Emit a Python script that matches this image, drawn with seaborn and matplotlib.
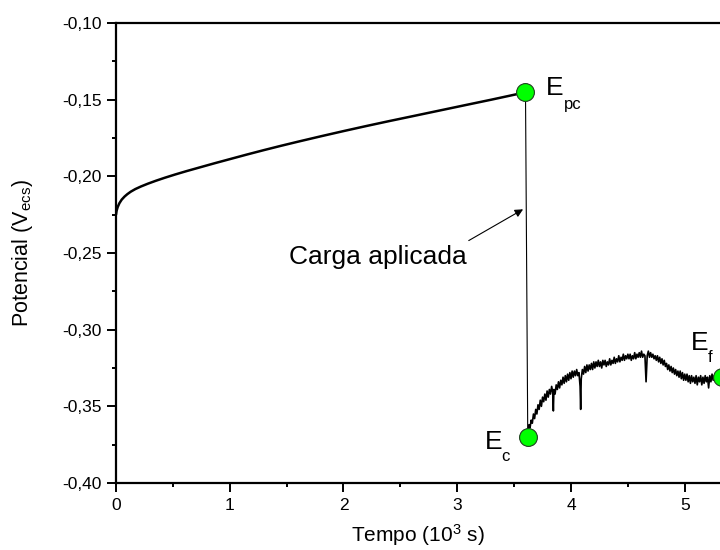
import numpy as np
import pandas as pd
import matplotlib
matplotlib.use("Agg")
import matplotlib.pyplot as plt
from matplotlib.ticker import MultipleLocator, FuncFormatter
import seaborn as sns

sns.set_theme(style="ticks")
plt.rcParams["font.family"] = ["Liberation Sans", "DejaVu Sans"]
plt.rcParams["mathtext.default"] = "regular"
plt.rcParams["text.color"] = "black"
plt.rcParams["axes.labelcolor"] = "black"

# open-circuit curve before the load (10^3 s, V)
t_before = [0.0, 0.005, 0.015, 0.03, 0.05, 0.075, 0.10, 0.13, 0.17, 0.22, 0.28,
            0.35, 0.43, 0.52, 0.62, 0.74, 0.87, 1.0, 1.15, 1.3, 1.45, 1.6,
            1.8, 2.0, 2.2, 2.4, 2.6, 2.85, 3.1, 3.3, 3.45, 3.6]
e_before = [-0.225, -0.2225, -0.2200, -0.2175, -0.2152, -0.2132, -0.2116, -0.2100,
            -0.2083, -0.2066, -0.2048, -0.2029, -0.2009, -0.1988, -0.1966, -0.1941,
            -0.1914, -0.1888, -0.1858, -0.1829, -0.1801, -0.1774, -0.1739, -0.1705,
            -0.1672, -0.1640, -0.1609, -0.1570, -0.1531, -0.1500, -0.1476, -0.1452]

# drop when the load is applied
t_drop = [3.60, 3.62]
e_drop = [-0.145, -0.370]

# noisy recovery after the load
t_after = [3.620, 3.630, 3.640, 3.650, 3.660, 3.670, 3.680, 3.690, 3.700, 3.710,
           3.720, 3.730, 3.740, 3.750, 3.760, 3.770, 3.780, 3.790, 3.800, 3.810,
           3.820, 3.830, 3.840, 3.845, 3.850, 3.860, 3.870, 3.880, 3.890, 3.900,
           3.910, 3.920, 3.930, 3.940, 3.950, 3.960, 3.970, 3.980, 3.990, 4.000,
           4.010, 4.020, 4.030, 4.040, 4.050, 4.060, 4.070, 4.080, 4.085, 4.090,
           4.100, 4.110, 4.120, 4.130, 4.140, 4.150, 4.160, 4.170, 4.180, 4.190,
           4.200, 4.210, 4.220, 4.230, 4.240, 4.250, 4.260, 4.270, 4.280, 4.290,
           4.300, 4.310, 4.320, 4.330, 4.340, 4.350, 4.360, 4.370, 4.380, 4.390,
           4.400, 4.410, 4.420, 4.430, 4.440, 4.450, 4.460, 4.470, 4.480, 4.490,
           4.500, 4.510, 4.520, 4.530, 4.540, 4.550, 4.560, 4.570, 4.580, 4.590,
           4.600, 4.610, 4.620, 4.630, 4.640, 4.650, 4.660, 4.670, 4.680, 4.690,
           4.700, 4.710, 4.720, 4.730, 4.740, 4.750, 4.760, 4.770, 4.780, 4.790,
           4.800, 4.810, 4.820, 4.830, 4.840, 4.850, 4.860, 4.870, 4.880, 4.890,
           4.900, 4.910, 4.920, 4.930, 4.940, 4.950, 4.960, 4.970, 4.980, 4.990,
           5.000, 5.010, 5.020, 5.030, 5.040, 5.050, 5.060, 5.070, 5.080, 5.090,
           5.100, 5.110, 5.120, 5.130, 5.140, 5.150, 5.160, 5.170, 5.180, 5.190,
           5.200, 5.210, 5.220, 5.230, 5.240, 5.250, 5.260, 5.270, 5.280, 5.290,
           5.300, 5.310, 5.320, 5.330]
e_after = [-0.367, -0.362, -0.364, -0.359, -0.361, -0.355, -0.358, -0.352, -0.355, -0.349,
           -0.352, -0.346, -0.350, -0.344, -0.347, -0.342, -0.346, -0.340, -0.344, -0.339,
           -0.342, -0.337, -0.341, -0.353, -0.339, -0.342, -0.336, -0.339, -0.334, -0.338,
           -0.333, -0.336, -0.331, -0.335, -0.330, -0.334, -0.329, -0.333, -0.328, -0.332,
           -0.327, -0.331, -0.327, -0.330, -0.326, -0.330, -0.328, -0.337, -0.352, -0.332,
           -0.326, -0.329, -0.324, -0.328, -0.323, -0.327, -0.323, -0.326, -0.322, -0.326,
           -0.321, -0.325, -0.321, -0.324, -0.320, -0.324, -0.321, -0.325, -0.320, -0.323,
           -0.320, -0.324, -0.321, -0.323, -0.319, -0.323, -0.320, -0.322, -0.318, -0.322,
           -0.319, -0.321, -0.317, -0.321, -0.318, -0.320, -0.316, -0.320, -0.317, -0.319,
           -0.316, -0.319, -0.316, -0.320, -0.317, -0.319, -0.315, -0.319, -0.316, -0.318,
           -0.315, -0.318, -0.314, -0.318, -0.316, -0.317, -0.334, -0.317, -0.314, -0.318,
           -0.315, -0.318, -0.316, -0.319, -0.317, -0.320, -0.317, -0.321, -0.318, -0.322,
           -0.319, -0.323, -0.320, -0.324, -0.322, -0.326, -0.323, -0.327, -0.324, -0.328,
           -0.325, -0.329, -0.326, -0.330, -0.327, -0.331, -0.327, -0.332, -0.328, -0.333,
           -0.329, -0.333, -0.329, -0.334, -0.330, -0.335, -0.330, -0.334, -0.331, -0.335,
           -0.330, -0.336, -0.331, -0.334, -0.330, -0.336, -0.331, -0.335, -0.330, -0.334,
           -0.331, -0.338, -0.330, -0.334, -0.329, -0.333, -0.330, -0.333, -0.329, -0.332,
           -0.330, -0.332, -0.330, -0.331]

# marked points
point_names = ["pc", "c", "f"]
point_t = [3.60, 3.62, 5.33]
point_e = [-0.145, -0.370, -0.331]

df_before = pd.DataFrame({"t": t_before, "E": e_before})
df_drop = pd.DataFrame({"t": t_drop, "E": e_drop})
df_after = pd.DataFrame({"t": t_after, "E": e_after})
df_pts = pd.DataFrame({"t": point_t, "E": point_e, "name": point_names})

fig = plt.figure(figsize=(7.2, 5.5), dpi=100)
ax = fig.add_axes([116 / 720, 67 / 550, 604 / 720, 460 / 550])

sns.lineplot(data=df_before, x="t", y="E", sort=False, estimator=None,
             color="black", lw=1.8, ax=ax)
sns.lineplot(data=df_drop, x="t", y="E", sort=False, estimator=None,
             color="black", lw=0.8, ax=ax)
sns.lineplot(data=df_after, x="t", y="E", sort=False, estimator=None,
             color="black", lw=1.2, ax=ax)
sns.scatterplot(data=df_pts, x="t", y="E", s=165, color="#00ff00",
                edgecolor="#1f3f1f", linewidth=0.8, zorder=5, ax=ax)

# point labels: big E with a low subscript, Origin style
def e_label(x, y, sub, sub_dx, sub_dy):
    ax.text(x, y, "E", fontsize=19, va="center", ha="left")
    ax.text(x + sub_dx, y - sub_dy, sub, fontsize=12, va="center", ha="left")

e_label(3.78, -0.1425, "pc", 0.155, 0.0105)
e_label(3.24, -0.3735, "c", 0.145, 0.0095)
e_label(5.05, -0.3086, "f", 0.150, 0.0095)

ax.text(2.30, -0.2525, "Carga aplicada", fontsize=19, va="center", ha="center")
ax.annotate("", xy=(3.60, -0.2206), xytext=(3.08, -0.2428),
            arrowprops=dict(arrowstyle="-|>", color="black", lw=0.8,
                            mutation_scale=12))

ax.set_xlim(0, 5.31)
ax.set_ylim(-0.40, -0.10)
ax.xaxis.set_major_locator(MultipleLocator(1))
ax.xaxis.set_minor_locator(MultipleLocator(0.5))
ax.yaxis.set_major_locator(MultipleLocator(0.05))
ax.yaxis.set_minor_locator(MultipleLocator(0.025))
ax.yaxis.set_major_formatter(FuncFormatter(lambda v, p: f"{v:.2f}".replace(".", ",")))
ax.xaxis.set_major_formatter(FuncFormatter(lambda v, p: f"{v:.0f}"))

ax.tick_params(which="major", direction="out", length=6.5, width=1.4,
               labelsize=12.5, colors="black", top=False, right=False, pad=4)
ax.tick_params(which="minor", direction="out", length=3, width=1.4,
               colors="black", top=False, right=False)
for side in ["left", "bottom", "top"]:
    ax.spines[side].set_linewidth(1.6)
    ax.spines[side].set_color("black")
ax.spines["right"].set_visible(False)

ax.set_xlabel(r"Tempo (10$^{3}$ s)", fontsize=15, labelpad=7)
ax.set_ylabel(r"Potencial (V$_{ecs}$)", fontsize=15.5, labelpad=19)

fig.savefig("out.png", dpi=100)
